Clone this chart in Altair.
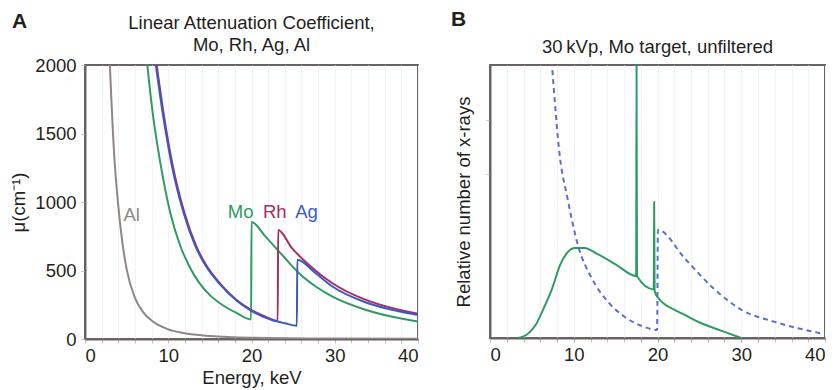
import altair as alt
import pandas as pd

# ---------------- Panel A data (energy keV, mu cm^-1) ----------------
al_e = [2.95, 3.5, 4.0, 4.5, 5.0, 6.0, 7.0, 8.0, 10.0, 12.0, 15.0, 20.0, 30.0, 40.0]
al_mu = [2050, 1350, 970, 700, 510, 300, 195, 135, 70, 42, 22, 9, 3, 1.5]

mo_e = [7.4, 8.13, 9.05, 10.25, 11.45, 12.5, 13.66, 15.0, 16.46, 18.2, 19.95, 20.0, 21.66, 23.66, 25.67, 27.67, 29.67, 33.67, 37.68, 40.0]
mo_mu = [2050, 1650, 1285, 920, 679, 535, 415, 320, 250, 190, 143, 854, 749, 615, 482, 385, 311, 214, 153, 128]

rh_e = [8.5, 9.43, 10.47, 11.95, 13.35, 14.7, 16.16, 18.56, 20.1, 21.6, 23.15, 23.2, 24.86, 26.87, 29.67, 33.67, 37.68, 40.0]
rh_mu = [2050, 1650, 1285, 920, 679, 525, 410, 268, 208, 165, 131, 796, 664, 542, 409, 287, 214, 185]

ag_e = [8.4, 9.33, 10.37, 11.85, 13.25, 14.6, 16.06, 18.46, 20.0, 22.46, 24.0, 25.45, 25.5, 27.67, 29.67, 33.67, 37.68, 40.0]
ag_mu = [2050, 1650, 1285, 920, 679, 525, 410, 268, 205, 139, 115, 97, 579, 482, 385, 268, 202, 175]

label_text = ["Al", "Mo", "Rh", "Ag"]
label_x = [5.6, 18.7, 22.8, 26.6]
label_y = [905, 930, 930, 930]

# ---------------- Panel B data (energy keV, relative number) ----------------
spec_e = [3.3, 4.5, 5.5, 6.2, 7.4, 8.4, 9.3, 10.1, 11.3, 12.8, 15.0, 17.45, 17.5, 17.55,
          19.55, 19.6, 19.65, 20.0, 22.1, 22.9, 25.3, 27.5, 30.0]
spec_n = [0, 1.5, 5, 9.5, 18, 27, 31.5, 33, 33, 30.8, 27, 22.7, 100, 22.6,
          17.8, 49.8, 17.3, 15.0, 10.2, 9.0, 5.3, 2.8, 0]

att_e = [7.2, 7.4, 8.36, 9.2, 10.5, 12.2, 14.1, 16.1, 18.5, 19.95, 20.05, 23.3, 26.5, 30.1, 34.0, 40.0]
att_n = [108, 100, 66, 52, 34, 21.6, 13.2, 7.7, 4.0, 2.9, 39.6, 29, 18.7, 10.2, 5.9, 1.4]

FONT = "Liberation Sans"
TXT = "#231f20"
FS = 18.5
colors = {"Al": "#8f8787", "Mo": "#2e9b63", "Rh": "#a3305f", "Ag": "#3b59c2"}


def series(name, e, v):
    return pd.DataFrame({"energy": e, "value": v, "series": name, "idx": list(range(len(e)))})


dfA = pd.concat([series("Al", al_e, al_mu), series("Mo", mo_e, mo_mu),
                 series("Rh", rh_e, rh_mu), series("Ag", ag_e, ag_mu)])
dfLab = pd.DataFrame({"series": label_text, "energy": label_x, "value": label_y})
dfB = pd.concat([series("spec", spec_e, spec_n), series("att", att_e, att_n)])

x_ticks = list(range(0, 41, 2))
label_expr = "datum.value % 10 == 0 ? datum.label : ''"


def x_enc(title):
    return alt.X("energy:Q", scale=alt.Scale(domain=[0, 40], nice=False),
                 axis=alt.Axis(values=x_ticks, labelExpr=label_expr, title=title, format="d",
                               tickSize=4, tickColor="#c4c0c0", grid=True, gridColor="#f1f4f6",
                               labelPadding=3, titlePadding=4))


yA = alt.Y("value:Q", scale=alt.Scale(domain=[0, 2000], nice=False),
           axis=alt.Axis(values=[0, 500, 1000, 1500, 2000], title="μ(cm⁻¹)", grid=False, format="d",
                         tickSize=4, tickColor="#c4c0c0", labelPadding=5, titlePadding=6))

layersA = []
for name in ["Al", "Mo", "Rh", "Ag"]:
    layersA.append(
        alt.Chart(dfA).transform_filter(alt.datum.series == name)
        .mark_line(color=colors[name], strokeWidth=2, interpolate="monotone", clip=True)
        .encode(x=x_enc("Energy, keV"), y=yA, order="idx:Q")
    )

labelsA = alt.Chart(dfLab).mark_text(font=FONT, fontSize=FS, align="center", baseline="middle").encode(
    x=x_enc("Energy, keV"), y=yA, text="series:N",
    color=alt.Color("series:N", scale=alt.Scale(domain=list(colors.keys()), range=list(colors.values())), legend=None),
)

letterA = alt.Chart(pd.DataFrame({"t": ["A"]})).mark_text(
    font=FONT, fontSize=21, fontWeight="bold", align="left", baseline="alphabetic", color=TXT
).encode(x=alt.value(-73), y=alt.value(-37), text="t:N")

panelA = alt.layer(*layersA, labelsA, letterA).properties(
    width=333, height=274,
    title=alt.TitleParams(["Linear Attenuation Coefficient,", "Mo, Rh, Ag, Al"], font=FONT, fontSize=FS,
                          fontWeight="normal", color=TXT, anchor="middle", lineHeight=22, offset=-43,
                          frame="group"),
)

# ---------------- Panel B ----------------
xB = x_enc(None)
yB = alt.Y("value:Q", scale=alt.Scale(domain=[0, 100], nice=False),
           axis=alt.Axis(values=[60, 80], labels=False, title="Relative number of x-rays", grid=False,
                         tickSize=4, tickColor="#c4c0c0", titlePadding=12))

specB = alt.Chart(dfB).transform_filter(alt.datum.series == "spec").mark_line(
    color="#2e9b63", strokeWidth=2, interpolate="monotone", clip=True
).encode(x=xB, y=yB, order="idx:Q")

attB = alt.Chart(dfB).transform_filter(alt.datum.series == "att").mark_line(
    color="#5a70cc", strokeWidth=2, strokeDash=[5, 4], interpolate="monotone", clip=True
).encode(x=xB, y=yB, order="idx:Q")

letterB = alt.Chart(pd.DataFrame({"t": ["B"]})).mark_text(
    font=FONT, fontSize=21, fontWeight="bold", align="left", baseline="alphabetic", color=TXT
).encode(x=alt.value(-39), y=alt.value(-39), text="t:N")

panelB = alt.layer(attB, specB, letterB).properties(
    width=335, height=273,
    title=alt.TitleParams("30\u2009kVp, Mo target, unfiltered", font=FONT, fontSize=FS,
                          fontWeight="normal", color=TXT, anchor="middle", offset=-47, frame="group"),
)

chart = alt.hconcat(panelA, panelB, spacing=30).properties(
    padding={"left": 0, "top": 0, "right": 0, "bottom": 0}
).configure_title(
    font=FONT, fontSize=FS, fontWeight="normal", color=TXT
).configure_view(
    stroke="#6b6363", strokeWidth=2
).configure_axis(
    labelFont=FONT, titleFont=FONT, labelFontSize=FS, titleFontSize=FS,
    labelColor=TXT, titleColor=TXT, titleFontWeight="normal",
    domainColor="#6b6363", domainWidth=2,
)

chart.save("out.html", embed_options={"renderer": "svg", "actions": False})
